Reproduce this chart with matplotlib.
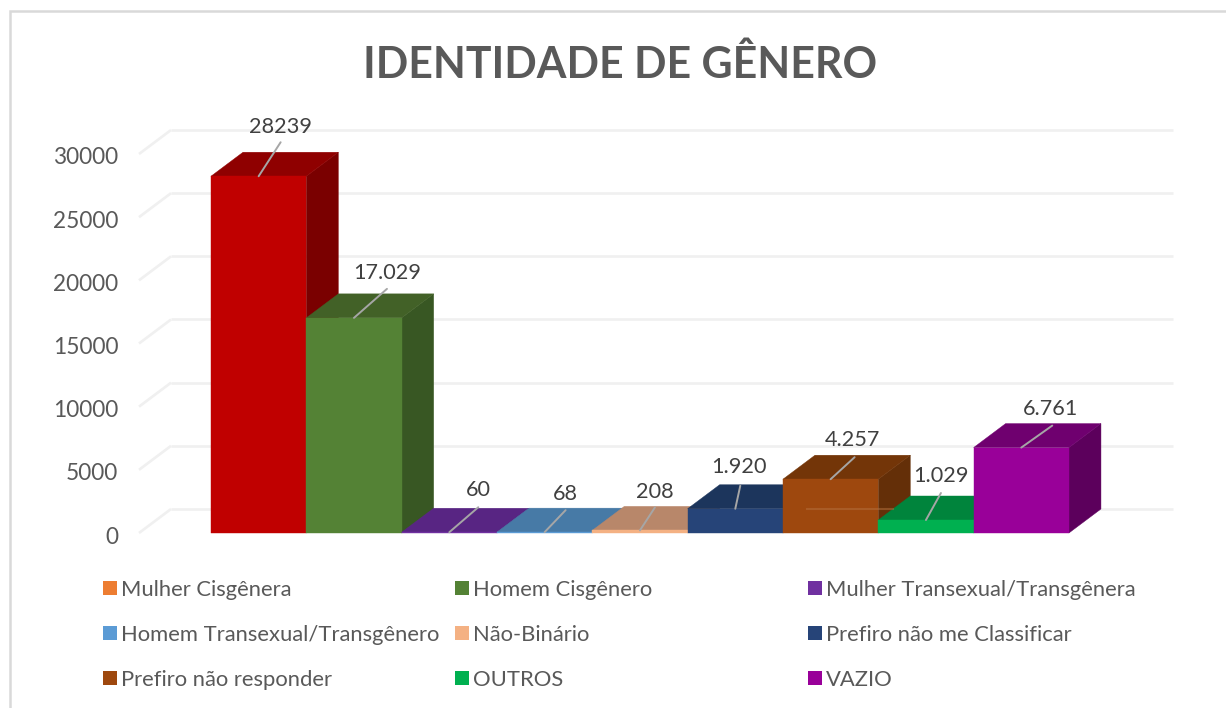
import matplotlib
matplotlib.use('Agg')
import matplotlib.pyplot as plt
from matplotlib.patches import Polygon, Rectangle
from matplotlib.transforms import ScaledTranslation

plt.rcParams['font.family'] = ['Lato', 'DejaVu Sans']

# data
categories = ['Mulher Cisgênera', 'Homem Cisgênero', 'Mulher Transexual/Transgênera',
              'Homem Transexual/Transgênero', 'Não-Binário', 'Prefiro não me Classificar',
              'Prefiro não responder', 'OUTROS', 'VAZIO']
values = [28239, 17029, 60, 68, 208, 1920, 4257, 1029, 6761]
value_labels = ['28239', '17.029', '60', '68', '208', '1.920', '4.257', '1.029', '6.761']
y_ticks = [0, 5000, 10000, 15000, 20000, 25000, 30000]

# colours: front, top, side
front_colors = ['#C00000', '#548235', '#7030A0', '#5B9BD5', '#F4B183', '#264478', '#9E480E', '#00B050', '#990099']
top_colors = ['#8F0000', '#426127', '#582583', '#477AA6', '#B8876A', '#1C355C', '#733508', '#00843C', '#6F006F']
side_colors = ['#7A0000', '#385723', '#4A1F6E', '#3C6A90', '#A0745A', '#182D4E', '#642F08', '#006E32', '#5C005C']
legend_colors = ['#ED7D31', '#548235', '#7030A0', '#5B9BD5', '#F4B183', '#264478', '#9E480E', '#00B050', '#990099']

W, H = 1226, 708
fig = plt.figure(figsize=(W / 100, H / 100), dpi=100)

# chart border, only left and top show in the crop
fig.add_artist(plt.Line2D([9.5 / W, 9.5 / W, 1], [0, (H - 11) / H, (H - 11) / H], transform=fig.transFigure,
                          color='#D9D9D9', lw=1.8, solid_joinstyle='miter'))

# front plane of the 3d box, in pixels
ax = fig.add_axes([139 / W, (H - 533) / H, 1002 / W, 379 / H])
ax.set_xlim(-1.255, 9.256)
ax.set_ylim(0, 30000)
for s in ax.spines.values():
    s.set_visible(False)
ax.patch.set_visible(False)
ax.set_xticks([])
ax.set_yticks(y_ticks)
ax.tick_params(axis='y', length=0, pad=15, labelsize=16.3, labelcolor='#595959')
for lab in ax.get_yticklabels():
    lab.set_transform(lab.get_transform() + ScaledTranslation(0, -2 / 100, fig.dpi_scale_trans))

depth_x = 0.336
depth_y = 1900
x0, x1 = ax.get_xlim()

# grid lines on the back wall and the left wall
for t in y_ticks:
    ax.plot([x0 + depth_x, x1 + depth_x], [t + depth_y, t + depth_y], color='#F0F0F0', lw=1.9,
            clip_on=False, zorder=1, solid_capstyle='butt')
    ax.plot([x0, x0 + depth_x], [t, t + depth_y], color='#F0F0F0', lw=1.9,
            clip_on=False, zorder=1, solid_capstyle='butt')

# bars, left to right so the later ones cover the sides of the earlier ones
z = 3
for i, v in enumerate(values):
    l, r = i - 0.5, i + 0.5
    front = [(l, 0), (r, 0), (r, v), (l, v)]
    top = [(l, v), (r, v), (r + depth_x, v + depth_y), (l + depth_x, v + depth_y)]
    side = [(r, 0), (r + depth_x, depth_y), (r + depth_x, v + depth_y), (r, v)]
    for pts, c in ((side, side_colors[i]), (top, top_colors[i]), (front, front_colors[i])):
        ax.add_patch(Polygon(pts, closed=True, facecolor=c, edgecolor=c, lw=0.3, clip_on=False, zorder=z))
        z += 1

# faint floor line that shows through the orange bar
ax.plot([5.75, 6.65], [depth_y, depth_y], color='#B5713F', lw=1.5, alpha=0.5, zorder=z, clip_on=False)

# data labels with leader lines, offsets in pixels
leader_dx = [22, 33, 29, 21, 15, 5, 24, 15, 31]
leader_dy = [34, 29, 25, 22, 23, 23, 22, 27, 22]
label_dx = [0, 0, 0, 0, 0, -1, -2, 0, -2]
label_dy = [15, 16, 17, 16, 15, 19, 17, 17, 17]
for i, v in enumerate(values):
    ax.annotate('', xy=(i, v), xytext=(leader_dx[i], leader_dy[i]), textcoords='offset pixels',
                arrowprops=dict(arrowstyle='-', color='#A6A6A6', lw=1.4, shrinkA=0, shrinkB=0), zorder=100)
    ax.annotate(value_labels[i], xy=(i, v), xytext=(leader_dx[i] + label_dx[i], leader_dy[i] + label_dy[i]),
                textcoords='offset pixels', ha='center', va='center', fontsize=15.6, color='#404040', zorder=101)

# title
fig.text(620.5 / W, (H - 65) / H, 'IDENTIDADE DE GÊNERO', ha='center', va='center',
         fontsize=30.8, fontweight='bold', color='#595959')

# legend, 3 equal columns
col_x = [103, 455, 808]
row_y = [588, 633, 678]
for i, name in enumerate(categories):
    cx = col_x[i % 3]
    cy = row_y[i // 3]
    fig.add_artist(Rectangle((cx / W, (H - cy - 7) / H), 14 / W, 14 / H, transform=fig.transFigure,
                             facecolor=legend_colors[i], edgecolor='none'))
    fig.text((cx + 18) / W, (H - cy - 2) / H, name, ha='left', va='center', fontsize=15.85, color='#595959')

fig.savefig('out.png', dpi=100)
